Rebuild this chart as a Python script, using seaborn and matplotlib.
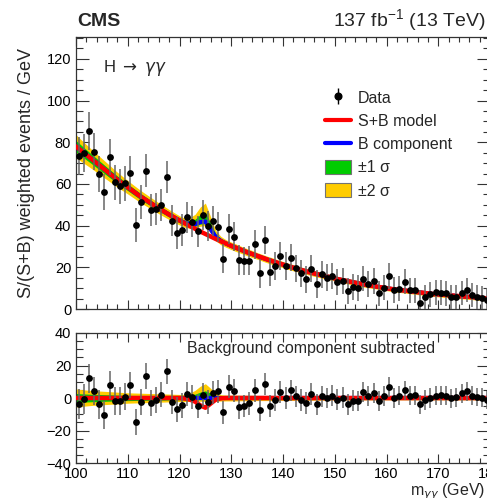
import numpy as np
import pandas as pd
import matplotlib
matplotlib.use("Agg")
import matplotlib.pyplot as plt
from matplotlib.lines import Line2D
from matplotlib.patches import Patch
from matplotlib.ticker import MultipleLocator
import seaborn as sns

# ---- data: 1 GeV bins from 100 to 180 GeV ----
bin_centres = np.arange(100.5, 180.0, 1.0)

weighted_events = [
    73.4, 74.7, 85.4, 75.4, 64.7, 56.2, 73.1, 60.8, 58.9, 60.3,
    65.4, 40.2, 51.4, 66.4, 47.5, 47.9, 49.8, 63.4, 42.4, 36.6,
    37.9, 44.0, 41.9, 37.3, 45.1, 39.8, 42.4, 39.5, 24.2, 38.5,
    34.7, 23.5, 23.0, 23.2, 31.0, 17.1, 33.0, 17.9, 20.8, 25.4,
    20.6, 24.6, 19.5, 17.1, 14.2, 19.4, 12.0, 16.7, 15.1, 15.8,
    13.1, 13.6, 8.6, 10.7, 9.9, 14.6, 11.8, 13.4, 7.5, 10.2,
    15.8, 9.1, 9.7, 13.1, 9.1, 9.1, 3.0, 5.6, 7.0, 8.0,
    7.8, 7.5, 5.6, 5.9, 7.8, 9.1, 6.6, 5.6, 5.1, 4.3,
]

subtracted_events = [
    -3.7, -0.6, 12.1, 4.3, -3.9, -10.5, 8.0, -1.8, -1.8, 0.8,
    8.0, -14.8, -2.5, 13.7, -3.1, -1.2, 2.1, 16.6, -2.5, -7.0,
    -4.5, 2.5, 0.4, -4.7, 2.0, -2.5, 3.3, 4.1, -8.8, 7.0,
    4.5, -5.8, -5.0, -3.3, 4.7, -7.4, 8.8, -5.0, -1.4, 3.9,
    -0.2, 4.7, 1.0, -1.2, -3.1, 2.5, -3.9, 1.0, 0.0, 1.4,
    -1.0, 0.2, -3.9, -1.6, -1.6, 3.5, 1.0, 3.3, -2.0, 1.0,
    6.8, 0.2, 1.4, 4.7, 1.4, 1.6, -3.9, -1.2, 0.0, 1.4,
    1.6, 1.4, -0.2, 0.4, 2.9, 4.1, 1.4, 0.6, 0.2, -1.2,
]

event_errors = [
    9.2, 9.1, 9.0, 8.9, 8.8, 8.7, 8.6, 8.5, 8.4, 8.3,
    8.2, 8.1, 8.0, 8.0, 7.9, 7.8, 7.8, 7.7, 7.6, 7.6,
    7.5, 7.5, 7.4, 7.4, 7.3, 7.3, 7.2, 7.2, 7.1, 7.1,
    7.0, 7.0, 6.9, 6.9, 6.9, 6.8, 6.8, 6.8, 6.7, 6.7,
    6.7, 6.6, 6.6, 6.6, 6.5, 6.5, 6.5, 6.4, 6.4, 6.4,
    6.3, 6.3, 6.3, 6.3, 6.2, 6.2, 6.2, 6.2, 6.1, 6.1,
    6.1, 6.1, 6.0, 6.0, 6.0, 6.0, 6.0, 5.9, 5.9, 5.9,
    5.9, 5.9, 5.9, 5.8, 5.8, 5.8, 5.8, 5.8, 5.8, 5.8,
]

# ---- fit curves on a 1 GeV grid ----
curve_mass = np.arange(100.0, 181.0, 1.0)

sb_model = [
    78.0, 76.0, 74.0, 72.0, 70.0, 68.0, 66.0, 64.0, 62.0, 60.2,
    58.4, 56.6, 54.8, 53.1, 51.5, 49.9, 48.3, 46.8, 45.3, 43.9,
    42.5, 41.1, 39.8, 38.5, 37.2, 36.0, 34.8, 33.6, 32.5, 31.4,
    30.3, 29.3, 28.3, 27.3, 26.4, 25.5, 24.6, 23.7, 22.9, 22.1,
    21.3, 20.5, 19.8, 19.1, 18.4, 17.7, 17.1, 16.5, 15.9, 15.3,
    14.7, 14.1, 13.6, 13.1, 12.6, 12.1, 11.6, 11.2, 10.8, 10.4,
    10.0, 9.6, 9.3, 9.0, 8.7, 8.4, 8.1, 7.8, 7.5, 7.2,
    7.0, 6.8, 6.6, 6.4, 6.2, 6.0, 5.8, 5.6, 5.4, 5.2,
    5.0,
]

# excess of the B component curve over the S+B curve (peak near 125 GeV)
b_excess = [0.0] * 21 + [0.3, 1.0, 2.2, 4.5, 6.0, 3.5, 1.0, 0.2] + [0.0] * 52

# band half-widths: smooth part and the part tied to the peak
band_width = [
    2.8, 2.6, 2.45, 2.3, 2.2, 2.1, 2.0, 1.9, 1.8, 1.7,
    1.6, 1.55, 1.5, 1.45, 1.4, 1.35, 1.3, 1.25, 1.2, 1.15,
    1.1, 1.1, 1.05, 1.05, 1.0, 1.0, 1.0, 0.95, 0.95, 0.9,
    0.9, 0.9, 0.85, 0.85, 0.85, 0.8, 0.8, 0.8, 0.8, 0.75,
    0.75, 0.75, 0.75, 0.7, 0.7, 0.7, 0.7, 0.7, 0.7, 0.65,
    0.65, 0.65, 0.65, 0.65, 0.65, 0.65, 0.6, 0.6, 0.6, 0.6,
    0.6, 0.6, 0.6, 0.6, 0.6, 0.6, 0.6, 0.6, 0.6, 0.6,
    0.6, 0.6, 0.6, 0.6, 0.6, 0.6, 0.6, 0.6, 0.6, 0.6,
    0.6,
]
peak_width = [0.0] * 22 + [0.5, 1.3, 2.6, 3.4, 2.0, 0.6, 0.1] + [0.0] * 52

# ---- derived arrays ----
sb = np.array(sb_model)
excess = np.array(b_excess)
b_comp = sb + excess
bw = np.array(band_width)
pw = np.array(peak_width)

RED = "#ff0000"
BLUE = "#0000ff"
GREEN = "#00cc00"
YELLOW = "#ffcc00"

sns.set_theme(style="ticks")
plt.rcParams["font.family"] = ["Liberation Sans", "DejaVu Sans"]
plt.rcParams["mathtext.fontset"] = "custom"
plt.rcParams["mathtext.rm"] = "Liberation Sans"
plt.rcParams["mathtext.it"] = "Liberation Sans:italic"
plt.rcParams["mathtext.sf"] = "Liberation Sans"
plt.rcParams["axes.linewidth"] = 0.9

W, H = 487, 498
fig = plt.figure(figsize=(W / 100, H / 100), dpi=100)
fig.patch.set_facecolor("white")
ax_top = fig.add_axes([76 / W, 1 - 309 / H, 414 / W, 272 / H])
ax_bot = fig.add_axes([76 / W, 1 - 463 / H, 414 / W, 130 / H])


def draw_panel(ax, centre, red_curve, values):
    up2 = centre + 2 * (bw + pw)
    lo2 = centre - 2 * bw
    up1 = centre + (bw + pw)
    lo1 = centre - bw
    ax.fill_between(curve_mass, lo2, up2, color=YELLOW, lw=0, zorder=1)
    ax.fill_between(curve_mass, lo1, up1, color=GREEN, lw=0, zorder=2)
    sns.lineplot(x=curve_mass, y=centre, ax=ax, color=BLUE, linewidth=3.0,
                 zorder=3, legend=False)
    sns.lineplot(x=curve_mass, y=red_curve, ax=ax, color=RED, linewidth=3.2,
                 zorder=4, legend=False)
    ax.errorbar(bin_centres, values, yerr=event_errors, fmt="none",
                ecolor="0.4", elinewidth=1.1, zorder=5)
    sns.scatterplot(x=bin_centres, y=values, ax=ax, color="black", s=24,
                    linewidth=0, zorder=6, legend=False)


draw_panel(ax_top, b_comp, sb, weighted_events)
draw_panel(ax_bot, b_comp - b_comp, sb - b_comp, subtracted_events)

for ax in (ax_top, ax_bot):
    ax.set_xlim(100, 180)
    ax.xaxis.set_major_locator(MultipleLocator(10))
    ax.xaxis.set_minor_locator(MultipleLocator(2))
    ax.yaxis.set_major_locator(MultipleLocator(20))
    ax.yaxis.set_minor_locator(MultipleLocator(5))
    ax.tick_params(which="both", direction="in", top=True, right=True,
                   colors="0.2", labelcolor="black", labelsize=10.5, width=0.8)
    ax.tick_params(axis="x", which="major", length=6.5, pad=3)
    ax.tick_params(axis="x", which="minor", length=3.5)
    ax.tick_params(axis="y", which="major", length=9.5, pad=3.5)
    ax.tick_params(axis="y", which="minor", length=5)
    for sp in ax.spines.values():
        sp.set_color("0.2")
    ax.set_ylabel("")
    ax.set_xlabel("")

ax_top.set_ylim(0, 130.5)
ax_top.tick_params(axis="x", labelbottom=False)
ax_bot.set_ylim(-40, 40)

ax_top.set_ylabel("S/(S+B) weighted events / GeV", fontsize=13)
ax_top.yaxis.set_label_coords(-(76 - 35) / 414, 0.5)
ax_bot.set_xlabel(r"m$_{\gamma\gamma}$ (GeV)", fontsize=11.5, loc="right",
                  math_fontfamily="dejavusans")
ax_bot.xaxis.set_label_coords((485 - 76) / 414, -(481 - 463) / 130)

fig.text(77 / W, 1 - 26 / H, "CMS", fontsize=14, fontweight="bold",
         va="baseline", ha="left")
fig.text(486 / W, 1 - 26 / H, r"137 fb$^{\mathregular{-1}}$ (13 TeV)",
         fontsize=14, va="baseline", ha="right")
fig.text(103 / W, 1 - 71.5 / H, r"H $\rightarrow$ $\gamma\gamma$", fontsize=12,
         va="baseline", ha="left", math_fontfamily="dejavusans")
ax_bot.text((311 - 76) / 414, 0.88, "Background component subtracted",
            fontsize=11.5, transform=ax_bot.transAxes, ha="center",
            va="center")

data_handle = ax_top.errorbar([np.nan], [np.nan], yerr=[1.0], fmt="o",
                              color="black", ms=4.8, ecolor="black",
                              elinewidth=1.0)
handles = [
    data_handle,
    Line2D([], [], color=RED, lw=3),
    Line2D([], [], color=BLUE, lw=3),
    Patch(facecolor=GREEN, edgecolor="0.45", lw=0.8),
    Patch(facecolor=YELLOW, edgecolor="0.45", lw=0.8),
]
labels = ["Data", "S+B model", "B component", "±1 σ", "±2 σ"]
fig.legend(handles, labels, loc="upper left",
           bbox_to_anchor=(325 / W, 1 - 90 / H), bbox_transform=fig.transFigure,
           frameon=False, fontsize=11.5, borderpad=0, borderaxespad=0,
           handlelength=1.6, handleheight=1.0, handletextpad=0.45,
           labelspacing=0.48)

fig.savefig("out.png", dpi=100, facecolor="white")
